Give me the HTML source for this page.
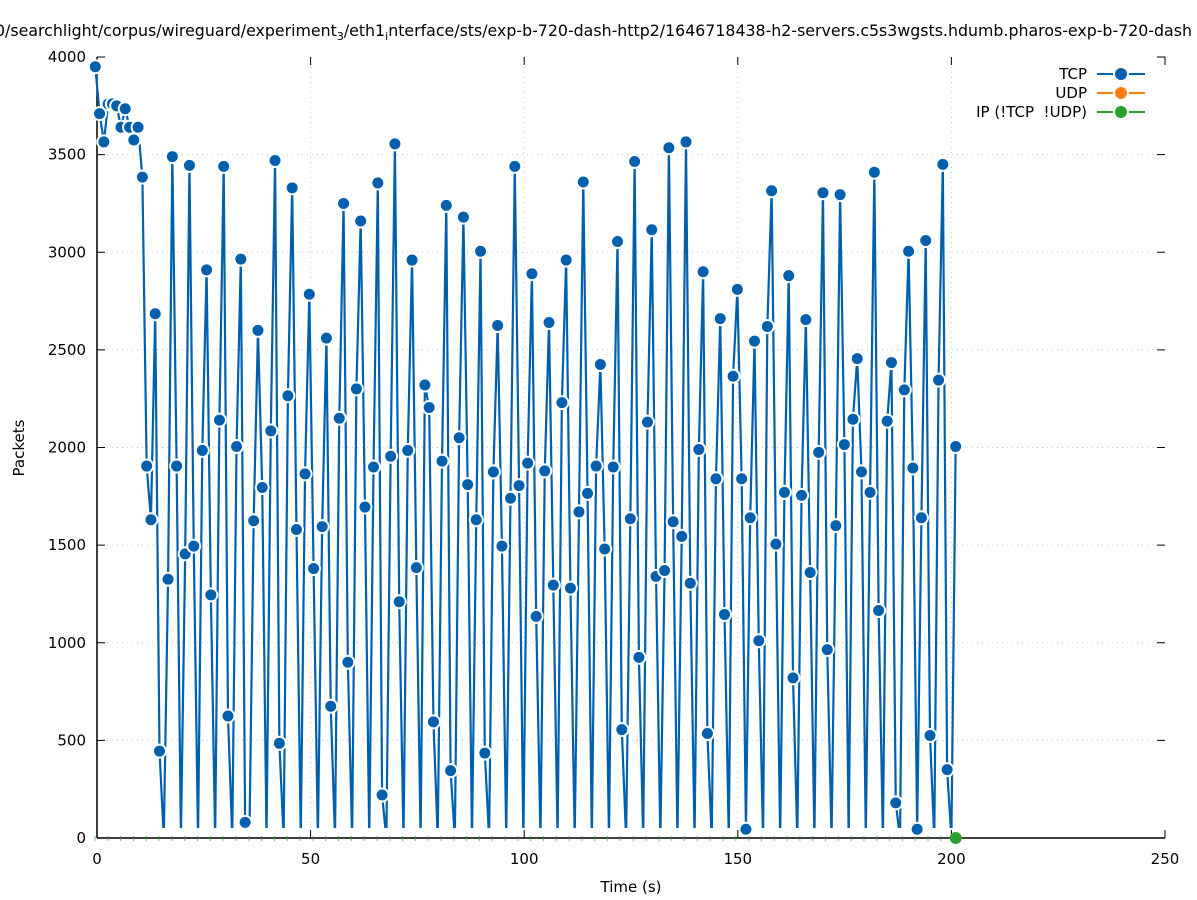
<!DOCTYPE html>
<html><head><meta charset="utf-8">
<style>
html,body{margin:0;padding:0;background:#fff;}
svg{display:block;font-family:"DejaVu Sans","Liberation Sans",sans-serif;}
text{white-space:pre;}
</style></head>
<body>
<svg id="chart" width="1197" height="900" viewBox="0 0 1197 900" xmlns="http://www.w3.org/2000/svg">
<text x="-5" y="36" font-size="15.8" fill="#000">0/searchlight/corpus/wireguard/experiment<tspan font-size="11" dy="4">3</tspan><tspan dy="-4">/eth1</tspan><tspan font-size="11" dy="4">i</tspan><tspan dy="-4">nterface/sts/exp-b-720-dash-http2/1646718438-h2-servers.c5s3wgsts.hdumb.pharos-exp-b-720-dash</tspan></text>
<g id="grid"></g>
<g id="axes"></g>
<g id="series"></g>
<text x="631" y="892" font-size="15" text-anchor="middle">Time (s)</text>
<text x="24" y="448" font-size="15" text-anchor="middle" transform="rotate(-90 24 448)">Packets</text>
<g id="legend"></g>
</svg>
<script>
const xTicks = [0, 50, 100, 150, 200, 250];
const yTicks = [0, 500, 1000, 1500, 2000, 2500, 3000, 3500, 4000];
const tcpValues = [3950,3710,3565,3760,3760,3750,3640,3735,3640,3575,3640,3385,
1905,1630,2685,445,0,1325,3490,1905,0,1455,3445,1495,0,1985,2910,1245,0,2140,3440,625,0,2005,2965,80,0,1625,2600,1795,0,2085,3470,485,0,2265,3330,1580,0,1865,2785,1380,0,1595,2560,675,0,2150,3250,900,0,2300,3160,1695,0,1900,3355,220,0,1955,3555,1210,0,1985,2960,1385,0,2320,2205,595,0,
1930,3240,345,0,2050,3180,1810,0,1630,3005,435,0,1875,2625,1495,0,1740,3440,1805,0,1920,2890,1135,0,1880,2640,1295,0,2230,2960,1280,0,1670,3360,1765,0,1905,2425,1480,0,1900,3055,555,0,1635,3465,925,0,2130,3115,1340,0,1370,3535,1620,0,1545,3565,1305,0,1990,2900,535,0,1840,2660,1145,0,2365,2810,1840,45,1640,2545,1010,0,2620,3315,1505,0,1770,2880,820,0,1755,2655,1360,0,1975,3305,965,0,1600,3295,2015,0,2145,2455,1875,0,1770,3410,1165,0,2135,2435,180,0,2295,3005,1895,45,1640,3060,525,0,2345,3450,350,0,2005];
const tcpStart = -0.4;
const ipPointTime = [201];
const ipPointValue = [0];
const legendLabels = ["TCP", "UDP", "IP (!TCP  !UDP)"];
const legendColors = ["#0060ad", "#ff7f0e", "#2ca02c"];

const NS = "http://www.w3.org/2000/svg";
const L = 97, R = 1165, T = 57, B = 838;
const xs = v => L + (v - 0) / 250 * (R - L);
const ys = v => B - v / 4000 * (B - T);
function mk(tag, attrs, parent) {
  const e = document.createElementNS(NS, tag);
  for (const k in attrs) e.setAttribute(k, attrs[k]);
  parent.appendChild(e);
  return e;
}
const grid = document.getElementById('grid');
const axes = document.getElementById('axes');
const series = document.getElementById('series');
const legend = document.getElementById('legend');
const tAt = i => tcpStart + i * (201 - tcpStart) / (tcpValues.length - 1);

xTicks.forEach(v => {
  const x = xs(v);
  if (v > 0 && v < 250) {
    const g = mk('line', {x1: x, x2: x, y1: T, y2: B, stroke: '#c8c8c8', 'stroke-width': 1, 'stroke-dasharray': '1,4'}, grid);
    
    
  }
  mk('line', {x1: x, x2: x, y1: B, y2: B - 8, stroke: '#000', 'stroke-width': 1}, axes);
  mk('line', {x1: x, x2: x, y1: T, y2: T + 8, stroke: '#000', 'stroke-width': 1}, axes);
  const t = mk('text', {x: x, y: 864, 'font-size': 15, 'text-anchor': 'middle'}, axes);
  t.textContent = v;
  
  
});
yTicks.forEach(v => {
  const y = ys(v);
  if (v > 0 && v < 4000) {
    const g = mk('line', {x1: L, x2: R, y1: y, y2: y, stroke: '#c8c8c8', 'stroke-width': 1, 'stroke-dasharray': '1,4'}, grid);
    
    
  }
  mk('line', {x1: L, x2: L + 8, y1: y, y2: y, stroke: '#000', 'stroke-width': 1}, axes);
  mk('line', {x1: R, x2: R - 8, y1: y, y2: y, stroke: '#000', 'stroke-width': 1}, axes);
  const t = mk('text', {x: 86, y: y + 5, 'font-size': 15, 'text-anchor': 'end'}, axes);
  t.textContent = v;
  
  
});
mk('line', {x1: L, x2: L, y1: T, y2: B, stroke: '#000', 'stroke-width': 1.5}, axes);
mk('line', {x1: L, x2: R, y1: B, y2: B, stroke: '#000', 'stroke-width': 1.5}, axes);

for (let t = 0; t <= 201; t += 3) {
  const g = mk('line', {x1: xs(t) - 2, x2: xs(t) - 2, y1: B - 2, y2: B + 3, stroke: '#2ca02c', 'stroke-width': 1, opacity: 0.7}, series);
  
  
}

const defs = mk('defs', {}, document.getElementById('chart'));
const cp = mk('clipPath', {id: 'lineclip'}, defs);
mk('rect', {x: 0, y: 0, width: 1197, height: B - 10}, cp);

const pts = tcpValues.map((v, i) => xs(tAt(i)) + ',' + ys(v)).join(' ');
const line = mk('polyline', {points: pts, fill: 'none', stroke: '#0060ad', 'stroke-width': 2.2, 'stroke-linejoin': 'round', 'clip-path': 'url(#lineclip)'}, series);



tcpValues.forEach((v, i) => {
  if (v === 0) return;
  const c = mk('circle', {cx: xs(tAt(i)), cy: ys(v), r: 6.5, fill: '#0060ad', stroke: '#fff', 'stroke-width': 2}, series);
  
  
});
ipPointTime.forEach((t, i) => {
  const c = mk('circle', {cx: xs(t), cy: ys(ipPointValue[i]), r: 6, fill: '#2ca02c'}, series);
  
  
});

legendLabels.forEach((lab, i) => {
  const y = 74 + i * 19;
  const t = mk('text', {x: 1087, y: y + 5, 'font-size': 15, 'text-anchor': 'end'}, legend);
  t.textContent = lab;
  
  
  const l1 = mk('line', {x1: 1097, x2: 1113, y1: y, y2: y, stroke: legendColors[i], 'stroke-width': 2}, legend);
  
  
  const l2 = mk('line', {x1: 1129, x2: 1145, y1: y, y2: y, stroke: legendColors[i], 'stroke-width': 2}, legend);
  
  
  const m = mk('circle', {cx: 1121, cy: y, r: 6, fill: legendColors[i]}, legend);
  
  
});
</script>
</body></html>
